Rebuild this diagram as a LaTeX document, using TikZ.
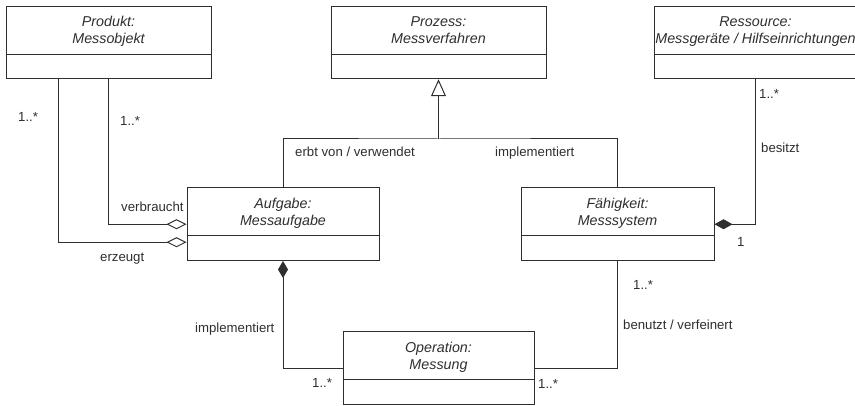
\documentclass[tikz,border=0pt]{standalone}
\usepackage{fontspec}
\setmainfont{Liberation Sans}
\usetikzlibrary{arrows.meta}

\colorlet{umlink}{black!82}

\tikzset{
  classbox/.style={draw=umlink, line width=1pt, rectangle, inner sep=0pt,
                   minimum height=72.5pt},
  classline/.style={draw=umlink, line width=1pt},
  classtitle/.style={inner sep=0pt, align=center, text=umlink,
                     font=\fontsize{14.3}{17}\selectfont\itshape},
  conn/.style={draw=umlink, line width=1pt},
  lbl/.style={inner sep=0pt, anchor=base west, text=umlink,
              font=\fontsize{13.2}{15}\selectfont},
  openrhomb/.style={{Diamond[open, length=20pt, width=10pt, line width=1pt]}-},
  fullrhomb/.style={{Diamond[length=18pt, width=10pt]}-},
  inherit/.style={-{Triangle[open, length=17pt, width=15pt, line width=1pt]}}
}

% class box: name, centre, width, first and second title line
\newcommand\umlclass[5]{%
  \node[classbox, minimum width=#3] (#1) at (#2) {};
  \draw[classline] ([yshift=-48.5pt]#1.north west) -- ([yshift=-48.5pt]#1.north east);
  \node[classtitle] (#1-title) at ([yshift=-26pt]#1.north) {\strut #4\\\strut #5};
}

\begin{document}
\begin{tikzpicture}[x=1pt, y=-1pt]
  \useasboundingbox (0,0) rectangle (855,406);
  \clip (0,0) rectangle (855,406);

  % classes
  \umlclass{prod}{108.5,42.5}{205pt}{Produkt:}{Messobjekt}
  \umlclass{proz}{438.5,42.5}{215pt}{Prozess:}{Messverfahren}
  \umlclass{ress}{755.5,42.5}{203pt}{Ressource:}{Messgeräte / Hilfseinrichtungen}
  \umlclass{aufg}{283,224.25}{192pt}{Aufgabe:}{Messaufgabe}
  \umlclass{faeh}{617.5,224.25}{193pt}{Fähigkeit:}{Messsystem}
  \umlclass{mess}{438.5,368.25}{191pt}{Operation:}{Messung}

  % generalisation towards the process
  \coordinate (gen) at (438.5,139);
  \draw[conn] (aufg.north) |- (gen) -| (faeh.north);
  \draw[conn, inherit] (gen) -- (proz.south);

  % aggregations between product and task
  \draw[conn, openrhomb] (aufg.west) -| (prod.south);
  \draw[conn, openrhomb] ([yshift=-18pt]aufg.west) -| ([xshift=-50.5pt]prod.south);

  % compositions
  \draw[conn, fullrhomb] (faeh.east) -| (ress.south);
  \draw[conn, {Diamond[length=17pt, width=10pt]}-] (aufg.south) |- (mess.west);
  \draw[conn] (faeh.south) |- (mess.east);

  % association labels and multiplicities
  \node[lbl] (m-prod-a) at (18,122) {1..*};
  \node[lbl] (m-prod-b) at (120,126) {1..*};
  \node[lbl] (l-verbr) at (121,212) {verbraucht};
  \node[lbl] (l-erzeugt) at (100,262) {erzeugt};
  \node[lbl] (l-erbt) at (295,157) {erbt von / verwendet};
  \node[lbl] (l-impl-top) at (495,157) {implementiert};
  \node[lbl] (m-ress) at (759,98.5) {1..*};
  \node[lbl] (l-besitzt) at (761,153) {besitzt};
  \node[lbl] (m-faeh-one) at (737,247) {1};
  \node[lbl] (m-faeh) at (633,289.5) {1..*};
  \node[lbl] (l-benutzt) at (623,330) {benutzt / verfeinert};
  \node[lbl] (m-mess-r) at (538,388.5) {1..*};
  \node[lbl] (l-impl-left) at (195,332.5) {implementiert};
  \node[lbl] (m-mess-l) at (312,387.5) {1..*};
\end{tikzpicture}
\end{document}
